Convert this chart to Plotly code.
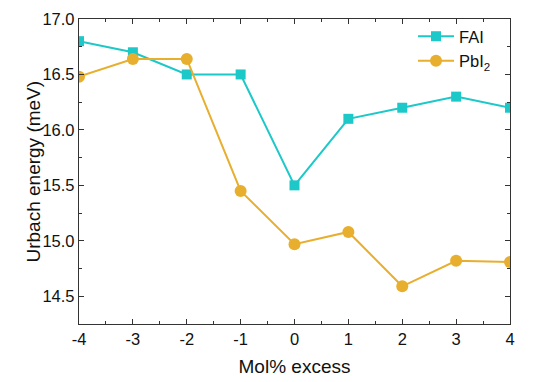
import plotly.graph_objects as go

x_vals = [-4, -3, -2, -1, 0, 1, 2, 3, 4]
fai = [16.8, 16.7, 16.5, 16.5, 15.5, 16.1, 16.2, 16.3, 16.2]
pbi2 = [16.48, 16.64, 16.64, 15.45, 14.97, 15.08, 14.59, 14.82, 14.81]
x_ticks = [-4, -3, -2, -1, 0, 1, 2, 3, 4]
y_ticks = [14.5, 15.0, 15.5, 16.0, 16.5, 17.0]

cyan = "#1DC8C8"
orange = "#E8AE2E"
font_family = "Liberation Sans, Arial"

fig = go.Figure()
fig.add_trace(go.Scatter(x=x_vals, y=fai, mode="lines+markers", name="FAI",
                         line=dict(color=cyan, width=2),
                         marker=dict(symbol="square", size=10, color=cyan)))
fig.add_trace(go.Scatter(x=x_vals, y=pbi2, mode="lines+markers", name="PbI<sub>2</sub>",
                         line=dict(color=orange, width=2),
                         marker=dict(symbol="circle", size=12, color=orange)))

axis_common = dict(showline=True, linecolor="#333333", linewidth=1.4, mirror="ticks",
                   ticks="inside", ticklen=5, tickcolor="#333333", tickwidth=1.2,
                   showgrid=False, zeroline=False, automargin=False,
                   tickfont=dict(family=font_family, size=16.5, color="#111111"))

fig.update_xaxes(range=[-4, 4], tickvals=x_ticks, ticktext=[str(v) for v in x_ticks],
                 title=dict(text="Mol% excess", font=dict(family=font_family, size=19, color="#111111"), standoff=12),
                 minor=dict(ticks="inside", ticklen=3, tickcolor="#333333", tickwidth=1.2,
                            tick0=-4, dtick=0.5, showgrid=False),
                 **axis_common)
fig.update_yaxes(range=[14.25, 17.0], tickvals=y_ticks, ticktext=[f"{v:.1f}" for v in y_ticks],
                 minor=dict(ticks="inside", ticklen=3, tickcolor="#333333", tickwidth=1.2,
                            tick0=14.5, dtick=0.25, showgrid=False),
                 **axis_common)

fig.add_annotation(text="Urbach energy (meV)", textangle=-90, xref="paper", yref="paper",
                   x=0, y=0.5, xanchor="center", yanchor="middle", xshift=-46, showarrow=False,
                   font=dict(family=font_family, size=19, color="#111111"))

fig.update_layout(width=554, height=382, margin=dict(l=79, r=44, t=19, b=58),
                  plot_bgcolor="white", paper_bgcolor="white",
                  legend=dict(x=0.775, y=1.0, xanchor="left", yanchor="top",
                              bgcolor="rgba(0,0,0,0)",
                              font=dict(family=font_family, size=16.5, color="#111111"),
                              itemwidth=36, tracegroupgap=0))

fig.write_html("out.html", config={"displayModeBar": False},
               post_script="document.body.style.margin='0px';")
